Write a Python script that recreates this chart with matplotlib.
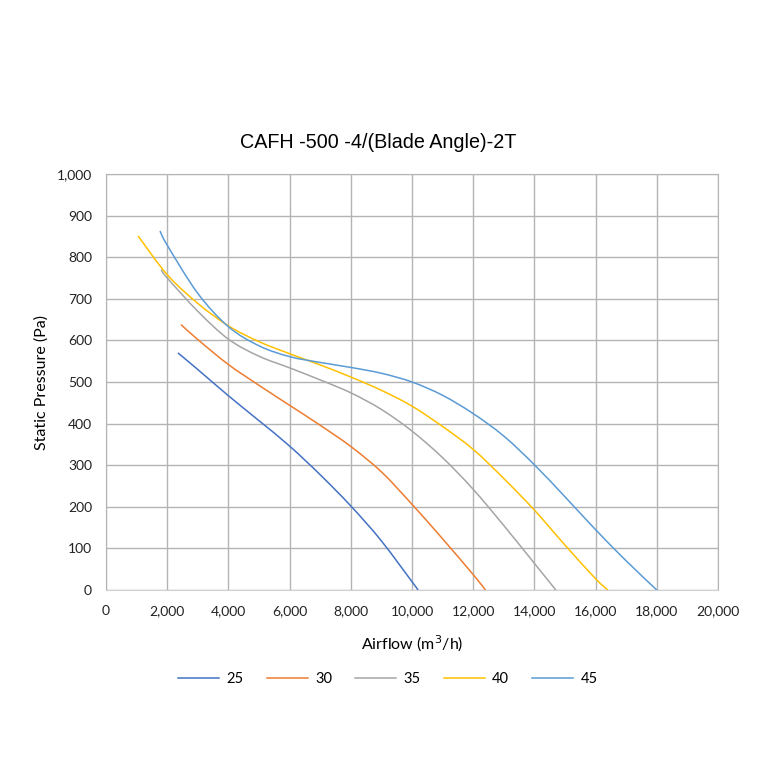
import matplotlib
matplotlib.use("Agg")
import matplotlib.pyplot as plt
from matplotlib.path import Path
from matplotlib.patches import PathPatch
from matplotlib.lines import Line2D
from matplotlib.ticker import FuncFormatter, MultipleLocator

# blade angle curves (airflow m3/h, static pressure Pa)
angles = ["25", "30", "35", "40", "45"]
colors = ["#4472C4", "#ED7D31", "#A5A5A5", "#FFC000", "#5B9BD5"]

flow_25 = [2350, 3000, 4000, 5000, 6000, 7000, 8000, 9000, 10200]
pres_25 = [570, 530, 467, 407, 346, 277, 202, 118, 0]

flow_30 = [2450, 3000, 4000, 5000, 6000, 7000, 8000, 9000, 10000, 11000, 12000, 12400]
pres_30 = [638, 602, 542, 492, 444, 396, 345, 284, 206, 123, 37, 0]

flow_35 = [1800, 2000, 3000, 4000, 5000, 6000, 7000, 8000, 9000, 10000, 11000, 12000, 13000, 14000, 14700]
pres_35 = [770, 750, 670, 603, 562, 534, 505, 474, 434, 382, 318, 242, 155, 64, 0]

flow_40 = [1050, 2000, 3000, 4000, 5000, 6000, 7000, 8000, 9000, 10000, 11000, 12000, 13000, 14000, 15000, 16000, 16400]
pres_40 = [851, 758, 689, 635, 597, 568, 541, 512, 480, 442, 393, 338, 268, 192, 108, 27, 0]

flow_45 = [1765, 2000, 3000, 4000, 5000, 6000, 7000, 8000, 9000, 10000, 11000, 12000, 13000, 14000, 15000, 16000, 17000, 18000]
pres_45 = [863, 829, 713, 633, 587, 561, 547, 535, 521, 500, 468, 424, 370, 301, 224, 145, 70, 0]

flows = [flow_25, flow_30, flow_35, flow_40, flow_45]
pressures = [pres_25, pres_30, pres_35, pres_40, pres_45]


def smooth_path(x, y):
    # bezier through the points, like excel's "smoothed line"
    pts = list(zip(x, y))
    verts = [pts[0]]
    codes = [Path.MOVETO]
    n = len(pts)
    for i in range(n - 1):
        p0 = pts[i - 1] if i > 0 else pts[i]
        p1 = pts[i]
        p2 = pts[i + 1]
        p3 = pts[i + 2] if i + 2 < n else pts[i + 1]
        c1 = (p1[0] + (p2[0] - p0[0]) / 6, p1[1] + (p2[1] - p0[1]) / 6)
        c2 = (p2[0] - (p3[0] - p1[0]) / 6, p2[1] - (p3[1] - p1[1]) / 6)
        verts += [c1, c2, p2]
        codes += [Path.CURVE4] * 3
    return Path(verts, codes)


fig = plt.figure(figsize=(7.6, 7.6), dpi=100)
ax = fig.add_axes([106 / 760, 170 / 760, 612 / 760, 416 / 760])

handles = []
for angle, c, x, y in zip(angles, colors, flows, pressures):
    ax.add_patch(PathPatch(smooth_path(x, y), fc="none", ec=c, lw=1.1, zorder=3))
    handles.append(Line2D([], [], color=c, lw=1.1, label=angle))

ax.set_xlim(0, 20000)
ax.set_ylim(0, 1000)
ax.xaxis.set_major_locator(MultipleLocator(2000))
ax.yaxis.set_major_locator(MultipleLocator(100))
fmt = FuncFormatter(lambda v, p: f"{int(v):,}")
ax.xaxis.set_major_formatter(fmt)
ax.yaxis.set_major_formatter(fmt)
ax.grid(True, color="#b4b4b4", lw=1)
ax.set_axisbelow(True)
for s in ax.spines.values():
    s.set_color("#b4b4b4")
ax.spines["bottom"].set_color("#d0d0d0")
ax.tick_params(length=0, labelsize=10, labelcolor="#222222")
ax.tick_params(axis="x", pad=11)
ax.tick_params(axis="y", pad=10)
for lab in ax.get_xticklabels() + ax.get_yticklabels():
    lab.set_family("Lato")

ax.set_xlabel("Airflow (m$^3$/h)", fontsize=11.5, family="Lato", labelpad=12)
ax.set_ylabel("Static Pressure (Pa)", fontsize=11.5, family="Lato", labelpad=6)
fig.text(378 / 760, 1 - 142 / 760, "CAFH -500 -4/(Blade Angle)-2T", ha="center", va="center",
         fontsize=14.2, family="Liberation Sans")

fig.legend(handles=handles, loc="center", bbox_to_anchor=(388 / 760, 1 - 679 / 760), ncol=5,
           frameon=False, prop={"family": "Lato", "size": 10.5}, handlelength=2.8,
           columnspacing=1.6, handletextpad=0.5)

fig.savefig("out.png", dpi=100)
